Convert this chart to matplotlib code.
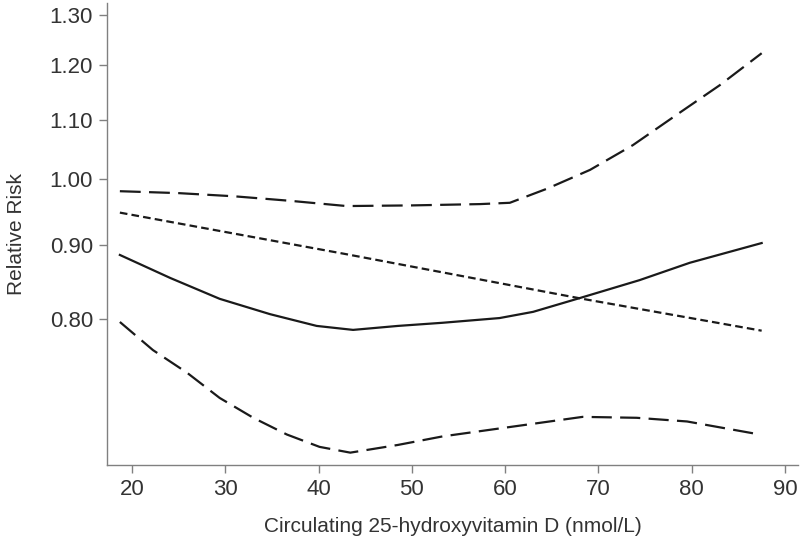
import matplotlib
matplotlib.use("Agg")
import matplotlib.pyplot as plt
from matplotlib.ticker import FixedLocator, NullLocator, FixedFormatter

plt.rcParams['font.family'] = ['Liberation Sans', 'DejaVu Sans']
plt.rcParams['lines.scale_dashes'] = False

# Data
x_rr = [18.7, 24.1, 29.4, 34.8, 39.8, 43.7, 48.5, 53.3, 59.4, 63.0, 68.0, 74.4, 79.8, 87.5]
rr = [0.886, 0.854, 0.826, 0.806, 0.791, 0.786, 0.791, 0.795, 0.801, 0.809, 0.827, 0.851, 0.875, 0.903]

x_upper = [18.7, 25, 31, 37, 43, 50, 57.3, 60.5, 64.5, 69.1, 73.7, 78.7, 83.0, 87.5]
upper = [0.981, 0.978, 0.973, 0.966, 0.958, 0.959, 0.961, 0.963, 0.985, 1.015, 1.056, 1.112, 1.162, 1.223]

x_lower = [18.7, 22.25, 25.9, 29.4, 33.0, 36.6, 40.1, 43.4, 48.5, 53.3, 60.5, 68.3, 74.1, 79.5, 87.3]
lower = [0.796, 0.761, 0.734, 0.705, 0.683, 0.665, 0.652, 0.646, 0.654, 0.663, 0.673, 0.684, 0.683, 0.679, 0.665]

x_trend = [18.7, 43, 68.3, 87.5]
trend = [0.948, 0.887, 0.826, 0.785]

xticks = [20, 30, 40, 50, 60, 70, 80, 90]
yticks = [0.80, 0.90, 1.00, 1.10, 1.20, 1.30]
ytick_labels = ["0.80", "0.90", "1.00", "1.10", "1.20", "1.30"]

fig = plt.figure(figsize=(8.0, 5.46), dpi=100)
ax = fig.add_axes([0.13375, 0.1484, 0.8638, 0.8461])

col = '#1a1a1a'
ax.plot(x_rr, rr, color=col, lw=1.6, solid_joinstyle='round')
ax.plot(x_upper, upper, color=col, lw=1.6, dashes=(15, 6))
ax.plot(x_lower, lower, color=col, lw=1.6, dashes=(14.5, 6))
ax.plot(x_trend, trend, color=col, lw=1.6, dashes=(5.5, 3))

ax.set_yscale('log')
ax.set_ylim(0.6334, 1.3252)
ax.set_xlim(17.32, 91.4)

ax.yaxis.set_major_locator(FixedLocator(yticks))
ax.yaxis.set_major_formatter(FixedFormatter(ytick_labels))
ax.yaxis.set_minor_locator(NullLocator())
ax.xaxis.set_major_locator(FixedLocator(xticks))
ax.xaxis.set_minor_locator(NullLocator())

for s in ['top', 'right']:
    ax.spines[s].set_visible(False)
for s in ['left', 'bottom']:
    ax.spines[s].set_color('#808080')
    ax.spines[s].set_linewidth(1.0)

ax.tick_params(axis='both', direction='out', length=6, width=1.0,
               color='#808080', labelsize=16, labelcolor='#333333', pad=4)

ax.set_xlabel('Circulating 25-hydroxyvitamin D (nmol/L)', fontsize=15, color='#333333', labelpad=12)
ax.set_ylabel('Relative Risk', fontsize=15, color='#333333', labelpad=17)

fig.savefig('out.png', dpi=100)
